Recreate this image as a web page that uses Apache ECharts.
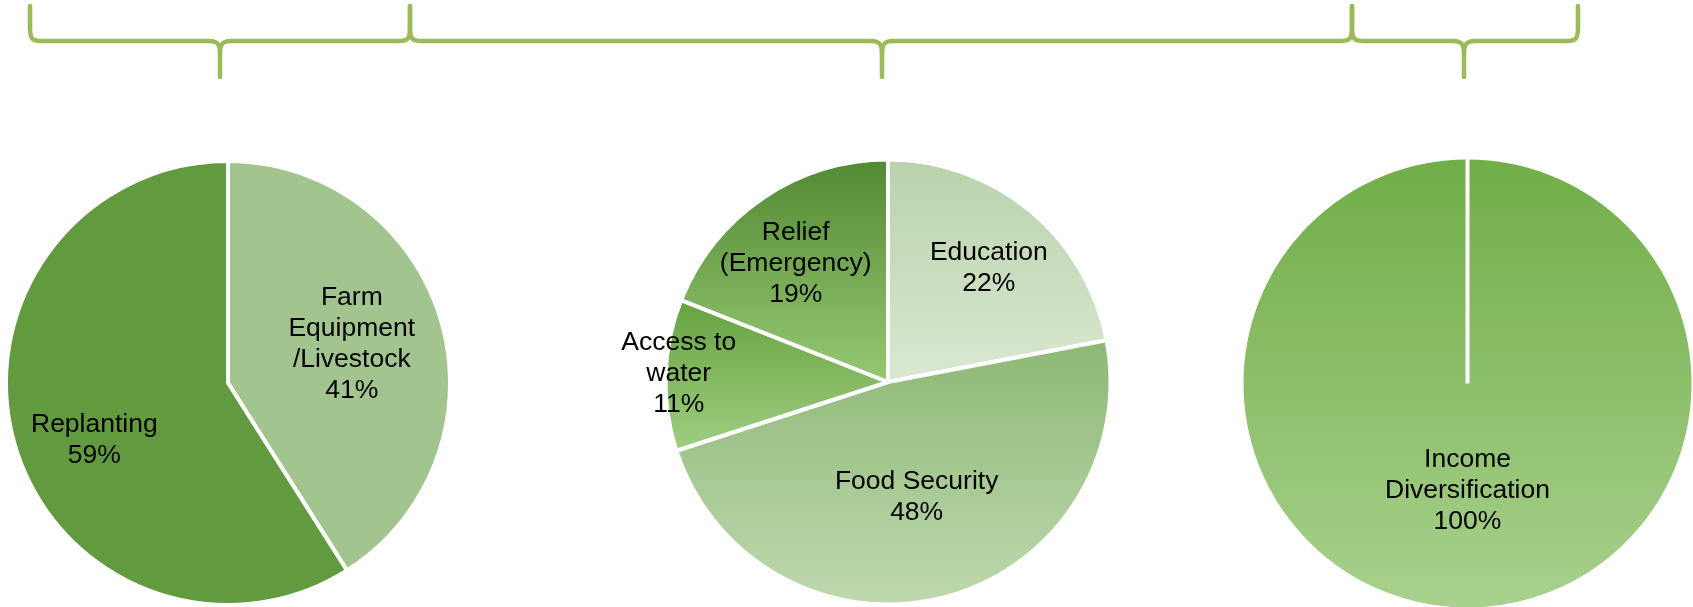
<!DOCTYPE html>
<html>
<head>
<meta charset="utf-8">
<title>Funding allocation by programme</title>
<script src="https://cdn.jsdelivr.net/npm/echarts@6/dist/echarts.min.js"></script>
<style>
  html, body { margin: 0; padding: 0; background: #ffffff; }
  #chart { width: 1693px; height: 607px; }
</style>
</head>
<body>
<div id="chart"></div>
<script>
// ---- data ----
const recoveryNames = ['Farm\nEquipment\n/Livestock', 'Replanting'];
const recoveryValues = [41, 59];

const welfareNames = ['Education', 'Food Security', 'Access to\nwater', 'Relief\n(Emergency)'];
const welfareValues = [22, 48, 11, 19];

const incomeNames = ['Income\nDiversification'];
const incomeValues = [100];

// ---- styling ----
const FONT = '"Liberation Sans", Arial, Helvetica, sans-serif';
const BRACE_COLOR = '#9bbb59';
const BORDER = 4;

const grad = (top, bottom) => new echarts.graphic.LinearGradient(0, 0, 0, 1, [
  { offset: 0, color: top },
  { offset: 1, color: bottom }
]);

const recoveryColors = ['#a2c48f', '#629b3f'];
const welfareColors = [
  grad('#b9d2ab', '#dae8d2'),
  grad('#8cb874', '#bfd9b0'),
  grad('#65a23f', '#a0ce82'),
  grad('#528933', '#97c974')
];
const incomeColors = [grad('#70ad47', '#a9d18e')];

// pie geometry (px) and where each slice's label sits: [radius fraction, angle from 12 o'clock]
const pies = [
  { cx: 228, cy: 383, r: 220, names: recoveryNames, values: recoveryValues, colors: recoveryColors,
    labelSpots: [[0.59, 72.5], [0.66, 247]] },
  { cx: 888, cy: 382, r: 220.5, names: welfareNames, values: welfareValues, colors: welfareColors,
    labelSpots: [[0.69, 41.5], [0.537, 166], [0.95, 272.2], [0.68, 322]] },
  { cx: 1467.5, cy: 383.5, r: 224, names: incomeNames, values: incomeValues, colors: incomeColors,
    labelSpots: [[0.48, 180]] }
];

// group braces along the top: [left end, tip, right end]
const braces = [[30, 220, 410], [410, 882, 1352], [1352, 1464, 1578]];
const BRACE_TOP = 6, BRACE_BAR = 41, BRACE_TIP = 77;

const braceStyle = { stroke: BRACE_COLOR, lineWidth: 4.5, lineCap: 'round', fill: null };

function braceParts(x0, t, x1) {
  const b = BRACE_BAR;
  const line = (ax, ay, bx, by) => ({
    type: 'line', silent: true,
    shape: { x1: ax, y1: ay, x2: bx, y2: by }, style: braceStyle
  });
  const curve = (ax, ay, c1x, c1y, c2x, c2y, bx, by) => ({
    type: 'bezierCurve', silent: true,
    shape: { x1: ax, y1: ay, cpx1: c1x, cpy1: c1y, cpx2: c2x, cpy2: c2y, x2: bx, y2: by },
    style: braceStyle
  });
  return [
    line(x0, BRACE_TOP, x0, b - 14),
    curve(x0, b - 14, x0, b - 2, x0 + 2, b, x0 + 12, b),
    line(x0 + 12, b, t - 10, b),
    curve(t - 10, b, t - 3, b, t, b + 3, t, b + 12),
    line(t, b + 12, t, BRACE_TIP),
    curve(t, b + 12, t, b + 3, t + 3, b, t + 10, b),
    line(t + 10, b, x1 - 12, b),
    curve(x1 - 12, b, x1 - 2, b, x1, b - 2, x1, b - 14),
    line(x1, b - 14, x1, BRACE_TOP)
  ];
}

const series = pies.map((p) => ({
  type: 'pie',
  center: [p.cx, p.cy],
  radius: p.r + BORDER / 2,
  startAngle: 90,
  clockwise: true,
  silent: true,
  animation: false,
  avoidLabelOverlap: false,
  itemStyle: { borderColor: '#ffffff', borderWidth: BORDER },
  label: {
    show: true,
    position: 'inside',
    formatter: (d) => d.name + '\n' + d.value + '%',
    color: '#000000',
    fontFamily: FONT,
    fontSize: 26.5,
    lineHeight: 31,
    align: 'center'
  },
  labelLine: { show: false },
  labelLayout: (params) => {
    const spot = p.labelSpots[params.dataIndex];
    const a = spot[1] * Math.PI / 180;
    return {
      x: p.cx + spot[0] * p.r * Math.sin(a),
      y: p.cy - spot[0] * p.r * Math.cos(a),
      align: 'center',
      verticalAlign: 'middle'
    };
  },
  emphasis: { disabled: true },
  data: p.values.map((v, i) => ({
    name: p.names[i],
    value: v,
    itemStyle: { color: p.colors[i] }
  }))
}));

let graphic = [];
braces.forEach((b) => { graphic = graphic.concat(braceParts(b[0], b[1], b[2])); });

// a single full slice still shows its seam at 12 o'clock
const solo = pies[2];
graphic.push({
  type: 'line',
  silent: true,
  z: 100,
  shape: { x1: solo.cx, y1: solo.cy, x2: solo.cx, y2: solo.cy - solo.r - BORDER },
  style: { stroke: '#ffffff', lineWidth: BORDER }
});

const chart = echarts.init(document.getElementById('chart'), null, { renderer: 'canvas' });
chart.setOption({
  backgroundColor: '#ffffff',
  animation: false,
  tooltip: { show: false },
  graphic: graphic,
  series: series
});
</script>
</body>
</html>
